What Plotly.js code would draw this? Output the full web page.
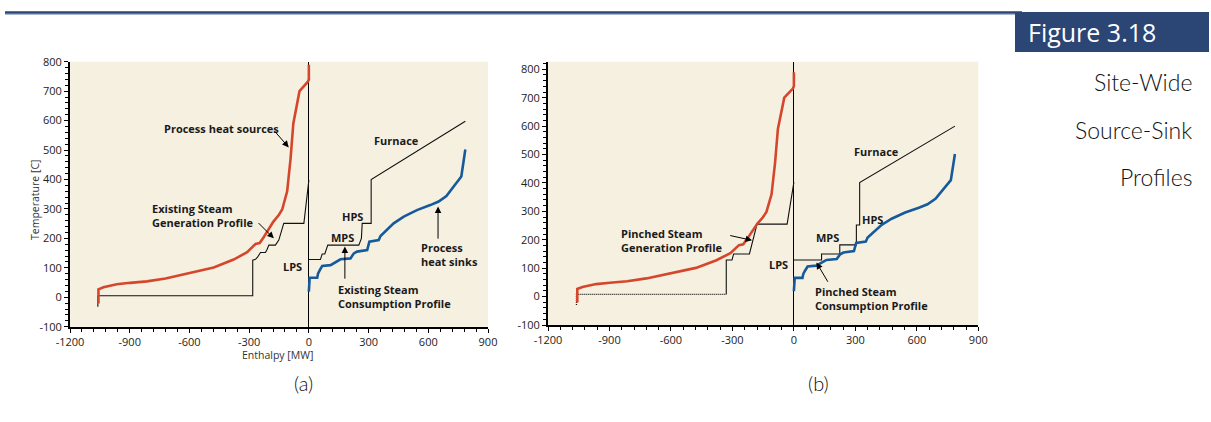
<!DOCTYPE html>
<html>
<head>
<meta charset="utf-8">
<script src="https://cdn.plot.ly/plotly-3.0.1.min.js"></script>
<style>html,body{margin:0;padding:0;background:#fff;}#chart{width:1211px;height:422px;}</style>
</head>
<body>
<div id="chart"></div>
<script>
// Process heat sources (same in both panels)
var srcH = [-1057, -1057, -1032, -965, -898, -814, -720, -610, -478, -378, -310, -268, -247, -227, -201, -178, -151, -134, -109, -92, -78, -47, -5, 0, 0];
var srcT = [-21, 27, 34, 44, 49, 54, 64, 80, 101, 128, 153, 181, 184, 204, 232, 257, 279, 298, 360, 470, 590, 700, 732, 740, 790];
// Process heat sinks (same in both panels)
var sinkH = [0, 4, 42, 46, 55, 67, 109, 142, 159, 209, 226, 242, 293, 304, 351, 360, 376, 393, 426, 477, 543, 610, 652, 691, 727, 766, 786];
var sinkT = [19, 66, 66, 80, 92, 106, 109, 121, 129, 132, 149, 155, 160, 189, 194, 208, 219, 228, 251, 274, 296, 313, 325, 344, 376, 410, 502];
// (a) Existing steam generation / consumption profiles
var genAH = [-1060, -1060, -282, -282, -268, -257, -243, -218, -210, -201, -168, -151, -131, -126, -25, 0];
var genAT = [-32, 5, 5, 126, 129, 137, 152, 152, 162, 177, 177, 194, 240, 251, 251, 398];
var consAH = [0, 58, 67, 80, 95, 251, 264, 268, 313, 313, 786];
var consAT = [128, 128, 147, 147, 177, 177, 200, 251, 251, 400, 598];
// (b) Pinched steam generation / consumption profiles
var pinGenDotH = [-1061, -1061, -330];
var pinGenDotT = [-30, 8, 8];
var pinGenH = [-330, -330, -302, -294, -217, -180, -33, 0];
var pinGenT = [8, 129, 129, 150, 150, 255, 255, 403];
var pinConsH = [0, 135, 135, 224, 224, 305, 305, 321, 321, 786];
var pinConsT = [129, 129, 150, 150, 182, 182, 252, 252, 401, 600];
// Axis ticks
var xTicks = [-1200, -900, -600, -300, 0, 300, 600, 900];
var xTickText = ['-1200', '-900', '-600', '-300', '0', '300', '600', '900'];
var yTicks = [-100, 0, 100, 200, 300, 400, 500, 600, 700, 800];
var yTickText = ['-100', '0', '100', '200', '300', '400', '500', '600', '700', '800'];

var W = 1211, H = 422;
function px(v){ return v / W; }
function py(v){ return 1 - v / H; }

var RED = '#d4472c', BLUE = '#175a9c', BLK = '#111111';
function line(x, y, xa, ya, color, width, dash){
  return {x: x, y: y, xaxis: xa, yaxis: ya, type: 'scatter', mode: 'lines',
    line: {color: color, width: width, dash: dash || 'solid'}, hoverinfo: 'skip', showlegend: false};
}
var traces = [
  line(genAH, genAT, 'x', 'y', BLK, 1.1),
  line(consAH, consAT, 'x', 'y', BLK, 1.1),
  line(srcH, srcT, 'x', 'y', RED, 2.6),
  line(sinkH, sinkT, 'x', 'y', BLUE, 2.6),
  line(pinGenDotH, pinGenDotT, 'x2', 'y2', BLK, 1.3, '1px,1px'),
  line(pinGenH, pinGenT, 'x2', 'y2', BLK, 1.1),
  line(pinConsH, pinConsT, 'x2', 'y2', BLK, 1.1),
  line(srcH, srcT, 'x2', 'y2', RED, 2.6),
  line(sinkH, sinkT, 'x2', 'y2', BLUE, 2.6)
];

var tickFont = {family: 'Open Sans, sans-serif', size: 11, color: '#222'};
function xax(dom){
  return {domain: dom, range: [-1200, 900], tickvals: xTicks, ticktext: xTickText, ticks: 'outside', ticklen: 4,
    tickwidth: 1, tickcolor: '#000', showline: true, linecolor: '#000', linewidth: 2,
    showgrid: false, zeroline: true, zerolinecolor: '#000', zerolinewidth: 1.2,
    tickfont: tickFont, fixedrange: true,
    minor: {dtick: 60, ticks: 'outside', ticklen: 3, tickcolor: '#000', tickwidth: 1, showgrid: false}};
}
function yax(dom, top, anchor){
  return {domain: dom, range: [-100, top], tickvals: yTicks, ticktext: yTickText, ticks: 'outside', ticklen: 4,
    tickwidth: 1, tickcolor: '#000', showline: true, linecolor: '#000', linewidth: 2,
    showgrid: false, zeroline: false, tickfont: tickFont, anchor: anchor, fixedrange: true,
    minor: {dtick: 20, ticks: 'outside', ticklen: 3, tickcolor: '#000', tickwidth: 1, showgrid: false}};
}

var labFont = {family: 'Open Sans, sans-serif', size: 11, color: '#1a1a1a', weight: 'bold'};
function lab(xr, yr, x, y, text, anchor){
  return {xref: xr, yref: yr, x: x, y: y, text: text, showarrow: false, font: labFont,
    xanchor: anchor || 'center', yanchor: 'middle', align: 'left'};
}
function arrow(xr, yr, x, y, ax, ay){
  return {xref: xr, yref: yr, x: x, y: y, axref: xr, ayref: yr, ax: ax, ay: ay, text: '',
    showarrow: true, arrowhead: 2, arrowsize: 1.3, arrowwidth: 1, arrowcolor: '#000', standoff: 0, startstandoff: 0};
}

var annotations = [
  // panel (a)
  lab('x', 'y', -438, 572, 'Process heat sources'),
  arrow('x', 'y', -101, 509, -181, 571),
  lab('x', 'y', -798, 279, 'Existing Steam<br>Generation Profile', 'left'),
  arrow('x', 'y', -176, 200, -260, 257),
  lab('x', 'y', -84, 106, 'LPS'),
  lab('x', 'y', 167, 202, 'MPS'),
  lab('x', 'y', 217, 274, 'HPS'),
  lab('x', 'y', 440, 531, 'Furnace'),
  lab('x', 'y', 555, 146, 'Process<br>heat sinks', 'left'),
  arrow('x', 'y', 649, 308, 649, 194),
  lab('x', 'y', 136, 2, 'Existing Steam<br>Consumption Profile', 'left'),
  arrow('x', 'y', 181, 172, 181, 58),
  // panel (b)
  lab('x2', 'y2', -854, 197, 'Pinched Steam<br>Generation Profile', 'left'),
  arrow('x2', 'y2', -204, 198, -318, 216),
  lab('x2', 'y2', -73, 114, 'LPS'),
  lab('x2', 'y2', 162, 208, 'MPS'),
  lab('x2', 'y2', 386, 270, 'HPS'),
  lab('x2', 'y2', 402, 512, 'Furnace'),
  lab('x2', 'y2', 94, -5, 'Pinched Steam<br>Consumption Profile', 'left'),
  arrow('x2', 'y2', 110, 120, 170, 47),
  // axis titles and captions
  {xref: 'paper', yref: 'paper', x: px(35), y: py(200), text: 'Temperature [C]', textangle: -90,
    showarrow: false, font: {family: 'Open Sans, sans-serif', size: 10.5, color: '#333'}, xanchor: 'center', yanchor: 'middle'},
  {xref: 'paper', yref: 'paper', x: px(277), y: py(355), text: 'Enthalpy [MW]',
    showarrow: false, font: {family: 'Open Sans, sans-serif', size: 10.5, color: '#333'}, xanchor: 'center', yanchor: 'middle'},
  {xref: 'paper', yref: 'paper', x: px(303), y: py(383), text: '(a)',
    showarrow: false, font: {family: 'Lato, sans-serif', size: 20, color: '#111', weight: 300}, xanchor: 'center', yanchor: 'middle'},
  {xref: 'paper', yref: 'paper', x: px(818), y: py(383), text: '(b)',
    showarrow: false, font: {family: 'Lato, sans-serif', size: 20, color: '#111', weight: 300}, xanchor: 'center', yanchor: 'middle'},
  // figure header
  {xref: 'paper', yref: 'paper', x: px(1026), y: py(32), text: 'Figure 3.18',
    showarrow: false, font: {family: 'Open Sans, sans-serif', size: 25, color: '#ffffff'}, xanchor: 'left', yanchor: 'middle'},
  {xref: 'paper', yref: 'paper', x: px(1194), y: py(82), text: 'Site-Wide',
    showarrow: false, font: {family: 'Lato, sans-serif', size: 23, color: '#111', weight: 300}, xanchor: 'right', yanchor: 'middle'},
  {xref: 'paper', yref: 'paper', x: px(1194), y: py(130), text: 'Source-Sink',
    showarrow: false, font: {family: 'Lato, sans-serif', size: 23, color: '#111', weight: 300}, xanchor: 'right', yanchor: 'middle'},
  {xref: 'paper', yref: 'paper', x: px(1194), y: py(177), text: 'Profiles',
    showarrow: false, font: {family: 'Lato, sans-serif', size: 23, color: '#111', weight: 300}, xanchor: 'right', yanchor: 'middle'}
];

var shapes = [
  {type: 'line', xref: 'paper', yref: 'paper', x0: px(5), x1: px(1022), y0: py(12.5), y1: py(12.5),
    line: {color: '#2b4574', width: 2.5}, layer: 'above'},
  {type: 'line', xref: 'paper', yref: 'paper', x0: px(5), x1: px(1022), y0: py(14.5), y1: py(14.5),
    line: {color: '#a9b8cf', width: 1}, layer: 'above'},
  {type: 'rect', xref: 'paper', yref: 'paper', x0: px(1015), x1: px(1209), y0: py(12), y1: py(52),
    fillcolor: '#2b4574', line: {width: 0}, layer: 'above'}
];

var layout = {
  width: W, height: H, margin: {l: 0, r: 0, t: 0, b: 0},
  paper_bgcolor: '#ffffff', plot_bgcolor: '#f6f0e1', showlegend: false,
  xaxis: xax([px(70), px(488)]),
  yaxis: yax([1 - 326.7 / H, 1 - 61.7 / H], 800, 'x'),
  xaxis2: Object.assign(xax([px(548), px(978.3)]), {anchor: 'y2'}),
  yaxis2: yax([1 - 325 / H, 1 - 61.7 / H], 826.7, 'x2'),
  annotations: annotations, shapes: shapes
};
layout.xaxis.anchor = 'y';

Plotly.newPlot('chart', traces, layout, {displayModeBar: false, staticPlot: true});
</script>
</body>
</html>
